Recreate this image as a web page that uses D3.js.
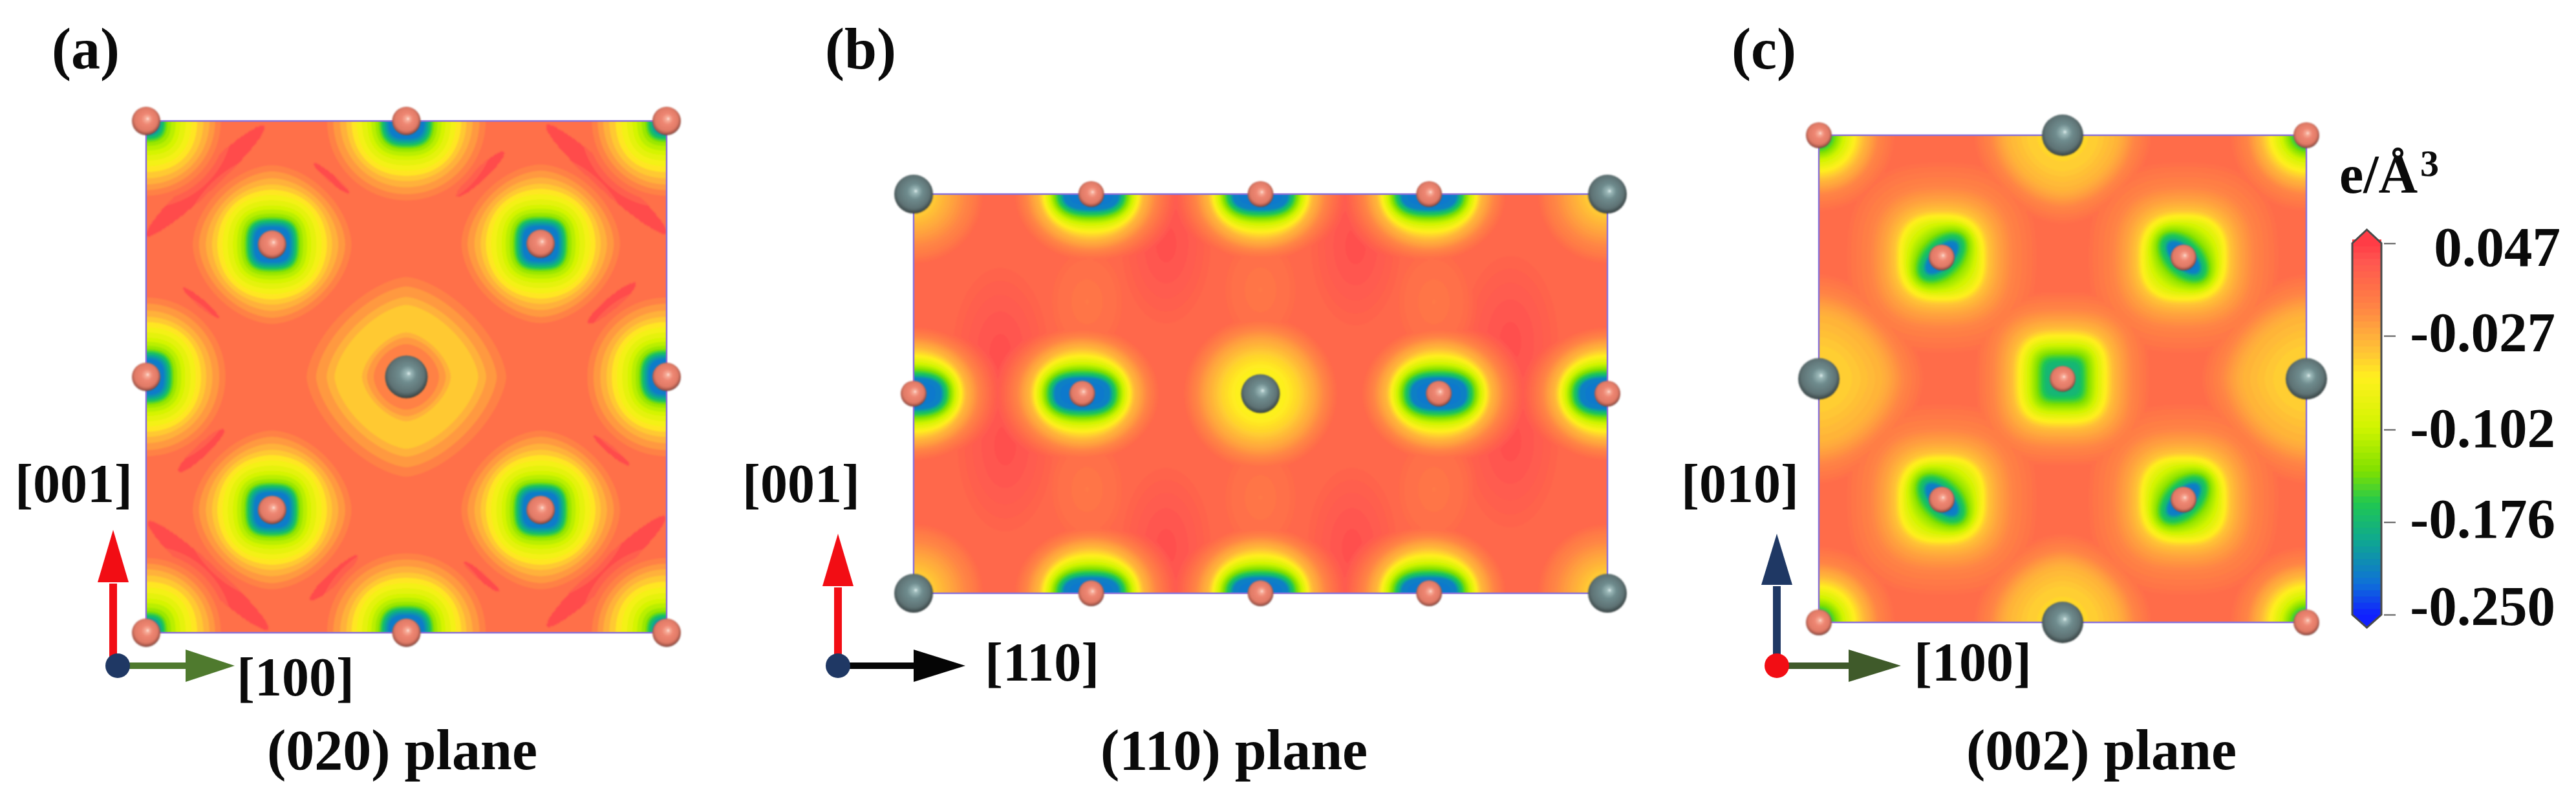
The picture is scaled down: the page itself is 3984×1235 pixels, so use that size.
<!DOCTYPE html>
<meta charset="utf-8">
<head>
<style>
body { margin: 0; background: #fff; }
svg text { font-family: "Liberation Serif", serif; font-weight: bold; fill: #0a0a0a; }
</style>
<script src="https://d3js.org/d3.v7.min.js"></script>
</head>
<body>
<div id="chart"></div>
<script>
// colour bar
var barTicks = [0.047, -0.027, -0.102, -0.176, -0.250];
var barLabels = ["0.047", "-0.027", "-0.102", "-0.176", "-0.250"];
var colorValues = [0.047, 0.033, 0.012, -0.005, -0.02, -0.04, -0.06, -0.10, -0.135, -0.16, -0.19, -0.225, -0.25];
var colorStops = ["#ff3c46", "#ff5650", "#ff7048", "#ff8644", "#ffa33e", "#ffc535", "#fff01e", "#d0f400", "#7fe000", "#20c850", "#0fa890", "#0f70d8", "#1020ff"];

// radial charge profiles: [distance px, e/A3]
var aOxygen = [[0,-.225],[27,-.215],[33,-.19],[38,-.16],[44,-.125],[60,-.09],[78,-.06],[96,-.03],[118,-.002],[127,.012],[150,.047]];
var aCorner = [[0,-.225],[18,-.21],[26,-.17],[34,-.125],[55,-.085],[78,-.05],[96,-.025],[112,0],[120,.012],[145,.047]];
var aGray = [[0,0],[48,-.005],[60,-.02],[72,-.041],[105,-.042],[125,-.02],[150,0],[160,.012],[185,.047]];
var bOxygen = [[0,-.225],[24,-.215],[28,-.18],[34,-.15],[46,-.1],[58,-.06],[72,-.03],[90,0],[105,.02],[130,.047]];
var bGray = [[0,-.065],[40,-.06],[62,-.045],[85,-.02],[110,.008],[130,.03],[150,.047]];
var bCorner = [[0,-.05],[35,-.04],[60,-.02],[95,.005],[120,.03],[140,.047]];
var bDip = [[0,.006],[70,.014],[110,.03],[130,.047]];
var cOxygen = [[0,-.225],[14,-.215],[18,-.18],[26,-.155],[36,-.125],[50,-.095],[60,-.07],[72,-.04],[88,-.02],[112,-.002],[145,.012],[178,.047]];
var cCentre = [[0,-.19],[26,-.175],[38,-.14],[52,-.1],[64,-.065],[78,-.035],[92,-.018],[108,-.004],[132,.012],[165,.047]];
var cCorner = [[0,-.19],[22,-.15],[38,-.1],[55,-.06],[72,-.03],[92,-.004],[115,.012],[150,.047]];
var cGray = [[0,-.05],[50,-.045],[85,-.03],[112,-.004],[135,.012],[170,.047]];
var cSide = [[0,-.05],[55,-.042],[100,-.028],[135,-.002],[160,.012],[190,.047]];

// well shapes: profile, corner exponent inner/outer, x stretch inner/outer, rotation, blend radius
var wellShapes = {
  ao: {pts: aOxygen, pIn: 3.5, pOut: 1.75, aIn: 1, aOut: 1, rot: 0, blend: 110},
  ae: {pts: aOxygen, pIn: 3, pOut: 2, aIn: 1, aOut: 1, rot: 0, blend: 100},
  ac: {pts: aCorner, pIn: 3, pOut: 2, aIn: 1, aOut: 1, rot: 0, blend: 100},
  ag: {pts: aGray, pIn: 2, pOut: 1.55, aIn: 1, aOut: 1, rot: 0, blend: 75},
  bo: {pts: bOxygen, pIn: 3, pOut: 2, aIn: 2.2, aOut: 1.15, rot: 0, blend: 70},
  bg: {pts: bGray, pIn: 2, pOut: 2, aIn: 1, aOut: 1, rot: 0, blend: 75},
  bc: {pts: bCorner, pIn: 2, pOut: 2, aIn: 1, aOut: 1, rot: 0, blend: 75},
  bd: {pts: bDip, pIn: 2, pOut: 2, aIn: .7, aOut: .7, rot: 0, blend: 75},
  cl: {pts: cOxygen, pIn: 2, pOut: 2.6, aIn: 3, aOut: 1, rot: -45, blend: 60},
  cr: {pts: cOxygen, pIn: 2, pOut: 2.6, aIn: 3, aOut: 1, rot: 45, blend: 60},
  cm: {pts: cCentre, pIn: 4.5, pOut: 3, aIn: 1, aOut: 1, rot: 0, blend: 75},
  cc: {pts: cCorner, pIn: 2, pOut: 2, aIn: 1, aOut: 1, rot: 0, blend: 75},
  cg: {pts: cGray, pIn: 2, pOut: 1.8, aIn: 1, aOut: 1, rot: 0, blend: 75},
  cs: {pts: cSide, pIn: 2, pOut: 1.7, aIn: 1, aOut: 1, rot: 0, blend: 75}
};

// [u, v, shape] in plane fractions
var wellsA = [[.242,.2415,"ao"],[.758,.24,"ao"],[.242,.76,"ao"],[.758,.76,"ao"],[.5,.5,"ag"],
  [0,.5,"ae"],[1,.5,"ae"],[.5,0,"ae"],[.5,1,"ae"],[0,0,"ac"],[1,0,"ac"],[0,1,"ac"],[1,1,"ac"]];
var wellsB = [[.256,0,"bo"],[.5,0,"bo"],[.743,0,"bo"],[.256,1,"bo"],[.5,1,"bo"],[.743,1,"bo"],
  [.243,.5,"bo"],[.757,.5,"bo"],[0,.5,"bo"],[1,.5,"bo"],[.5,.5,"bg"],
  [0,0,"bc"],[1,0,"bc"],[0,1,"bc"],[1,1,"bc"],
  [.5,.24,"bd"],[.5,.76,"bd"],[.25,.27,"bd"],[.75,.27,"bd"],[.25,.74,"bd"],[.75,.74,"bd"]];
var wellsC = [[.252,.251,"cl"],[.748,.251,"cr"],[.252,.748,"cr"],[.748,.748,"cl"],[.5,.5,"cm"],
  [0,0,"cc"],[1,0,"cc"],[0,1,"cc"],[1,1,"cc"],[.5,0,"cg"],[.5,1,"cg"],[0,.5,"cs"],[1,.5,"cs"]];

// charge ridges: [u, v, half length px, half width px, angle deg, e/A3]
var ridgesA = [[.114,.117,125,17,-43,.036],[.884,.114,125,17,42,.036],[.119,.888,125,17,42,.036],[.884,.88,125,17,-43,.036],
  [.642,.104,50,10,-43,.036],[.895,.356,48,10,-40,.036],[.106,.644,48,10,-43,.036],[.361,.893,50,10,-43,.036],
  [.356,.112,36,6,40,.036],[.105,.355,36,6,40,.036],[.894,.644,36,6,40,.036],[.644,.89,36,6,40,.036]];
var ridgesB = [[.364,.125,125,70,90,.036],[.637,.13,125,70,90,.036],[.125,.4,135,75,90,.036],[.86,.37,135,75,90,.036],
  [.132,.63,135,75,90,.036],[.86,.62,135,75,90,.036],[.364,.885,125,70,90,.036],[.632,.885,125,70,90,.036]];
var ridgesC = [];

// atoms: [u, v, kind]
var atomsA = [[0,0,"o"],[.5,0,"o"],[1,0,"o"],[0,.5,"o"],[1,.5,"o"],[0,1,"o"],[.5,1,"o"],[1,1,"o"],
  [.242,.2415,"o"],[.758,.24,"o"],[.242,.76,"o"],[.758,.76,"o"],[.5,.5,"g"]];
var atomsB = [[0,0,"g"],[1,0,"g"],[0,1,"g"],[1,1,"g"],[.5,.5,"g"],
  [.256,0,"o"],[.5,0,"o"],[.743,0,"o"],[.256,1,"o"],[.5,1,"o"],[.743,1,"o"],
  [0,.5,"o"],[.243,.5,"o"],[.757,.5,"o"],[1,.5,"o"]];
var atomsC = [[0,0,"o"],[1,0,"o"],[0,1,"o"],[1,1,"o"],[.5,0,"g"],[.5,1,"g"],[0,.5,"g"],[1,.5,"g"],
  [.252,.251,"o"],[.748,.251,"o"],[.252,.748,"o"],[.748,.748,"o"],[.5,.5,"o"]];

var width = 3984, height = 1235, cell = 2;

var color = d3.scaleLinear().domain(colorValues).range(colorStops).clamp(true);

var svg = d3.select("#chart").append("svg").attr("width", width).attr("height", height);
var defs = svg.append("defs");

defs.append("filter").attr("id", "soft").append("feGaussianBlur").attr("stdDeviation", 1.3);
defs.append("filter").attr("id", "photo").append("feGaussianBlur").attr("stdDeviation", .8);

function ballGradient(id, stops) {
  var g = defs.append("radialGradient").attr("id", id)
      .attr("cx", .48).attr("cy", .46).attr("r", .56).attr("fx", .56).attr("fy", .42);
  stops.forEach(function(s) { g.append("stop").attr("offset", s[0]).attr("stop-color", s[1]); });
}
ballGradient("ballO", [[0, "#fff4ee"], [.1, "#f8b09c"], [.35, "#ee8672"], [.72, "#e07a66"], [.9, "#a05448"], [1, "#45302e"]]);
ballGradient("ballG", [[0, "#eef8f8"], [.09, "#9fbcbc"], [.35, "#6f8c8e"], [.75, "#5e7274"], [.92, "#3f4c4d"], [1, "#1e2626"]]);

var wellScales = {};
Object.keys(wellShapes).forEach(function(k) {
  var pts = wellShapes[k].pts;
  wellScales[k] = d3.scaleLinear().domain(pts.map(function(d) { return d[0]; }))
      .range(pts.map(function(d) { return d[1]; })).clamp(true);
});

function pnorm(x, y, p) {
  return Math.pow(Math.pow(Math.abs(x), p) + Math.pow(Math.abs(y), p), 1 / p);
}

function drawPlane(layout) {
  var x = d3.scaleLinear().domain([0, 1]).range([layout.x0, layout.x1]);
  var y = d3.scaleLinear().domain([0, 1]).range([layout.y0, layout.y1]);
  var nx = Math.ceil((layout.x1 - layout.x0) / cell) + 1;
  var ny = Math.ceil((layout.y1 - layout.y0) / cell) + 1;
  var values = new Float64Array(nx * ny);

  for (var j = 0; j < ny; j++) {
    for (var i = 0; i < nx; i++) {
      var px = layout.x0 + i * cell, py = layout.y0 + j * cell;
      var val = layout.base;

      layout.ridges.forEach(function(r) {
        var a = r[4] * Math.PI / 180;
        var dx = px - x(r[0]), dy = py - y(r[1]);
        var along = (dx * Math.cos(a) + dy * Math.sin(a)) / r[2];
        var across = (-dx * Math.sin(a) + dy * Math.cos(a)) / r[3];
        var d = layout.hardRidge ? along * along + across * across : Math.pow(along * along + across * across, .8);
        if (d < 1) {
          var bump = layout.base + (r[5] - layout.base) * (layout.hardRidge ? 1 : (1 - d));
          if (bump > val) val = bump;
        }
      });

      layout.wells.forEach(function(w) {
        var s = wellShapes[w[2]];
        var dx = px - x(w[0]), dy = py - y(w[1]);
        if (Math.abs(dx) > 230 || Math.abs(dy) > 230) return;
        var a = s.rot * Math.PI / 180;
        var rx = dx * Math.cos(a) + dy * Math.sin(a);
        var ry = -dx * Math.sin(a) + dy * Math.cos(a);
        var rOut = pnorm(dx / s.aOut, dy, s.pOut);
        var rIn = pnorm(rx / s.aIn, ry, s.pIn);
        var t = Math.min(1, rOut / s.blend);
        t = t * t;
        var v = wellScales[w[2]](rIn * (1 - t) + rOut * t);
        if (v < val) val = v;
      });

      values[j * nx + i] = val;
    }
  }

  var thresholds = d3.range(layout.start, 0.05, layout.step);
  var contours = d3.contours().size([nx, ny]).thresholds(thresholds)(values);
  var path = d3.geoPath(d3.geoTransform({
    point: function(a, b) {
      this.stream.point(layout.x0 + (a - .5) * cell, layout.y0 + (b - .5) * cell);
    }
  }));

  var g = svg.append("g");
  var clipId = "clip" + layout.id;
  defs.append("clipPath").attr("id", clipId).append("rect")
      .attr("x", layout.x0).attr("y", layout.y0)
      .attr("width", layout.x1 - layout.x0).attr("height", layout.y1 - layout.y0);

  g.append("g").attr("clip-path", "url(#" + clipId + ")")
    .append("g").attr("filter", "url(#soft)")
    .selectAll("path").data(contours).join("path")
      .attr("d", path)
      .attr("fill", function(d) { return color(d.value + layout.step / 2); });

  g.append("rect")
      .attr("x", layout.x0).attr("y", layout.y0)
      .attr("width", layout.x1 - layout.x0).attr("height", layout.y1 - layout.y0)
      .attr("fill", "none").attr("stroke", "#8a72d8").attr("stroke-width", 2.5);

  g.append("g").attr("filter", "url(#photo)")
    .selectAll("circle").data(layout.atoms).join("circle")
      .attr("cx", function(d) { return x(d[0]); })
      .attr("cy", function(d) { return y(d[1]); })
      .attr("r", function(d) { return d[2] == "g" ? layout.rGray : layout.rOxy; })
      .attr("fill", function(d) { return d[2] == "g" ? "url(#ballG)" : "url(#ballO)"; });
}

function drawTriad(t) {
  var g = svg.append("g");
  g.append("line").attr("x1", t.ox + t.upShift).attr("y1", t.oy).attr("x2", t.ox + t.upShift).attr("y2", t.upBase + 2)
      .attr("stroke", t.up).attr("stroke-width", 12);
  g.append("path").attr("fill", t.up)
      .attr("d", d3.line()([[t.ox + t.upShift - 24, t.upBase], [t.ox + t.upShift + 24, t.upBase], [t.ox + t.upShift, t.upTip]]) + "Z");
  g.append("line").attr("x1", t.ox).attr("y1", t.oy).attr("x2", t.rightBase + 2).attr("y2", t.oy)
      .attr("stroke", t.right).attr("stroke-width", 10);
  g.append("path").attr("fill", t.right)
      .attr("d", d3.line()([[t.rightBase, t.oy - 25], [t.rightBase, t.oy + 25], [t.rightTip, t.oy]]) + "Z");
  g.append("circle").attr("cx", t.ox).attr("cy", t.oy).attr("r", 19).attr("fill", t.dot);
}

function label(text, x, y, size, anchor) {
  svg.append("text").attr("x", x).attr("y", y).attr("font-size", size)
      .attr("text-anchor", anchor || "start").text(text);
}

drawPlane({id: "a", x0: 226, x1: 1031, y0: 187, y1: 978, base: .012, start: -.26475, step: .0135, hardRidge: true,
  wells: wellsA, ridges: ridgesA, atoms: atomsA, rOxy: 22, rGray: 33});
drawPlane({id: "b", x0: 1413, x1: 2486, y0: 300, y1: 917, base: .02, start: -.27, step: .0035, hardRidge: false,
  wells: wellsB, ridges: ridgesB, atoms: atomsB, rOxy: 20, rGray: 30});
drawPlane({id: "c", x0: 2813, x1: 3567, y0: 209, y1: 962, base: .014, start: -.27, step: .0035, hardRidge: false,
  wells: wellsC, ridges: ridgesC, atoms: atomsC, rOxy: 20, rGray: 32});

drawTriad({ox: 182, oy: 1029, upShift: -7, upBase: 900, upTip: 819, rightBase: 287, rightTip: 363, up: "#f20d14", right: "#4f7a2e", dot: "#1f3864"});
drawTriad({ox: 1296, oy: 1029, upShift: 0, upBase: 906, upTip: 825, rightBase: 1413, rightTip: 1493, up: "#f20d14", right: "#050505", dot: "#1f3864"});
drawTriad({ox: 2748, oy: 1029, upShift: 0, upBase: 904, upTip: 825, rightBase: 2859, rightTip: 2940, up: "#1f3864", right: "#3f5a2a", dot: "#f20d14"});

label("(a)", 80, 106, 90);
label("(b)", 1276, 106, 90);
label("(c)", 2678, 106, 90);
label("[001]", 23, 776, 84);
label("[100]", 366, 1075, 84);
label("[001]", 1148, 776, 84);
label("[110]", 1523, 1052, 84);
label("[010]", 2600, 776, 84);
label("[100]", 2960, 1052, 84);
label("(020) plane", 413, 1189, 88);
label("(110) plane", 1702, 1189, 88);
label("(002) plane", 3041, 1189, 88);

// colour bar and its unit
var barY = d3.scaleLinear().domain([0.047, -0.25]).range([376, 950]);
var barX0 = 3638, barX1 = 3683;
var bar = svg.append("g");
bar.selectAll("rect").data(d3.range(-0.25, 0.047, 0.005)).join("rect")
    .attr("x", barX0).attr("width", barX1 - barX0)
    .attr("y", function(d) { return barY(d + 0.005); })
    .attr("height", function(d) { return barY(d) - barY(d + 0.005) + 1; })
    .attr("fill", function(d) { return color(d + 0.0025); });
var barOutline = [[barX0, 376], [(barX0 + barX1) / 2, 355], [barX1, 376], [barX1, 950], [(barX0 + barX1) / 2, 970], [barX0, 950]];
bar.append("path").attr("fill", color(0.047))
    .attr("d", d3.line()([barOutline[0], barOutline[1], barOutline[2]]) + "Z");
bar.append("path").attr("fill", color(-0.25))
    .attr("d", d3.line()([barOutline[3], barOutline[4], barOutline[5]]) + "Z");
bar.append("path").attr("fill", "none").attr("stroke", "#4a4a4a").attr("stroke-width", 3)
    .attr("d", d3.line()(barOutline) + "Z");

var labelDy = [34, 23, 27, 24, 15];
var axis = d3.axisRight(barY).tickValues(barTicks).tickSize(18).tickPadding(0)
    .tickFormat(function(d, i) { return barLabels[i]; });
var axisG = svg.append("g").attr("transform", "translate(3687,0)").call(axis);
axisG.select(".domain").remove();
axisG.selectAll("line").attr("stroke", "#555").attr("stroke-width", 2);
axisG.selectAll("text")
    .attr("font-size", 87).attr("text-anchor", "end")
    .attr("x", function(d, i) { return i == 0 ? 273 : 265; })
    .attr("dy", 0).attr("y", function(d, i) { return labelDy[i]; });
axisG.attr("font-family", null).attr("font-size", null);

label("e/Å", 3618, 298, 84);
label("3", 3743, 272, 58);
</script>
</body>
